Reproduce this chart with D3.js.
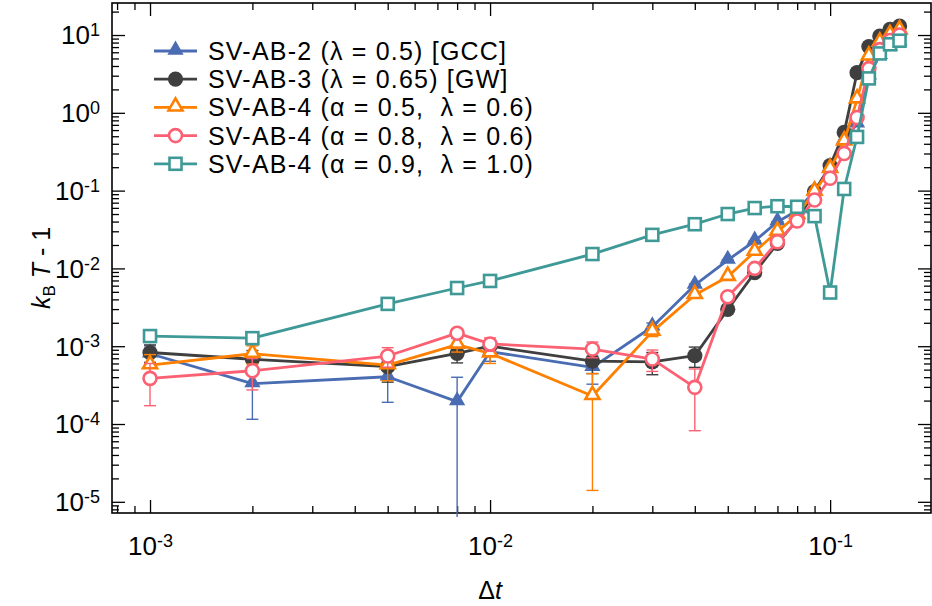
<!DOCTYPE html>
<html>
<head>
<meta charset="utf-8">
<script src="https://d3js.org/d3.v7.min.js"></script>
<style>
  body { margin: 0; background: #fff; }
  svg text { font-family: "Liberation Sans", Arial, sans-serif; fill: #000; white-space: pre; }
</style>
</head>
<body>
<svg id="chart"></svg>
<script>
// time steps (x) shared by all series
var dt = [0.001, 0.002, 0.005, 0.008, 0.01, 0.02, 0.03, 0.04, 0.05, 0.06,
          0.07, 0.08, 0.09, 0.1, 0.11, 0.12, 0.13, 0.14, 0.15, 0.16];

var ab2 = [8.0e-4, 3.3e-4, 4.05e-4, 1.94e-4, 8.5e-4, 5.35e-4, 1.78e-3, 6.1e-3, 1.28e-2, 2.25e-2,
           3.98e-2, 5.5e-2, 0.1, 0.2, 0.45, 0.72, 3.0, 5.5, 7.0, 8.2];
var ab2Err = [2.1e-4, 2.15e-4, 2.15e-4, 2.05e-4, 2.1e-4, 2.1e-4, 2.1e-4, 2.1e-4, 2.1e-4, 2.1e-4,
              2.1e-4, 2.1e-4, 2.1e-4, 2.1e-4, 2.1e-4, 2.1e-4, 2.1e-4, 2.1e-4, 2.1e-4, 2.1e-4];

var ab3 = [8.3e-4, 6.8e-4, 5.45e-4, 8.1e-4, 1.0e-3, 6.45e-4, 6.3e-4, 7.55e-4, 2.98e-3, 8.8e-3,
           2.1e-2, 4.2e-2, 9.7e-2, 0.21, 0.56, 3.28, 7.1, 9.7, 11.8, 13.0];
var ab3Err = [2.1e-4, 2.0e-4, 2.0e-4, 2.0e-4, 2.0e-4, 2.0e-4, 2.0e-4, 2.2e-4, 2.1e-4, 2.1e-4,
              2.1e-4, 2.1e-4, 2.1e-4, 2.1e-4, 2.1e-4, 2.1e-4, 2.1e-4, 2.1e-4, 2.1e-4, 2.1e-4];

var ab4a = [5.7e-4, 8.0e-4, 5.7e-4, 1.05e-3, 8.1e-4, 2.29e-4, 1.54e-3, 4.55e-3, 7.8e-3, 1.64e-2,
            2.97e-2, 4.86e-2, 9.7e-2, 0.19, 0.43, 1.49, 5.3, 8.0, 10.0, 11.5];
var ab4aErr = [2.1e-4, 2.1e-4, 2.1e-4, 2.1e-4, 2.1e-4, 2.15e-4, 2.1e-4, 2.1e-4, 2.1e-4, 2.1e-4,
               2.1e-4, 2.1e-4, 2.1e-4, 2.1e-4, 2.1e-4, 2.1e-4, 2.1e-4, 2.1e-4, 2.1e-4, 2.1e-4];

var ab4b = [3.86e-4, 4.84e-4, 7.48e-4, 1.47e-3, 1.07e-3, 9.2e-4, 6.84e-4, 2.96e-4, 4.33e-3, 1.0e-2,
            2.2e-2, 4.07e-2, 7.57e-2, 0.144, 0.30, 0.87, 3.7, 6.5, 8.5, 10.0];
var ab4bErr = [2.14e-4, 2.1e-4, 2.1e-4, 2.1e-4, 2.1e-4, 2.1e-4, 2.1e-4, 2.14e-4, 2.1e-4, 2.1e-4,
               2.1e-4, 2.1e-4, 2.1e-4, 2.1e-4, 2.1e-4, 2.1e-4, 2.1e-4, 2.1e-4, 2.1e-4, 2.1e-4];

var ab4c = [1.35e-3, 1.27e-3, 3.5e-3, 5.6e-3, 6.9e-3, 1.53e-2, 2.7e-2, 3.7e-2, 5.0e-2, 5.97e-2,
            6.3e-2, 6.2e-2, 4.7e-2, 4.9e-3, 0.105, 0.49, 2.77, 5.8, 7.6, 8.45];

var seriesNames = ['SV-AB-2 (\u03bb = 0.5) [GCC]',
                   'SV-AB-3 (\u03bb = 0.65) [GW]',
                   'SV-AB-4 (\u03b1 = 0.5,  \u03bb = 0.6)',
                   'SV-AB-4 (\u03b1 = 0.8,  \u03bb = 0.6)',
                   'SV-AB-4 (\u03b1 = 0.9,  \u03bb = 1.0)'];

var xMajor = [1e-3, 1e-2, 1e-1];
var yMajor = [1e-5, 1e-4, 1e-3, 1e-2, 1e-1, 1e0, 1e1];
var xExp = ['-3', '-2', '-1'];
var yExp = ['-5', '-4', '-3', '-2', '-1', '0', '1'];

var series = [
  { name: seriesNames[0], v: ab2,  err: ab2Err,  color: '#4a6cb3', shape: 'tri', fill: true },
  { name: seriesNames[1], v: ab3,  err: ab3Err,  color: '#3f3f3f', shape: 'circle', fill: true },
  { name: seriesNames[2], v: ab4a, err: ab4aErr, color: '#ff8000', shape: 'tri', fill: false },
  { name: seriesNames[3], v: ab4b, err: ab4bErr, color: '#fb6172', shape: 'circle', fill: false },
  { name: seriesNames[4], v: ab4c, err: null,    color: '#3f9a97', shape: 'square', fill: false }
];

var width = 932, height = 606;
var pLeft = 112, pRight = 931, pTop = 3, pBottom = 513;

var svg = d3.select('#chart').attr('width', width).attr('height', height);

var x = d3.scaleLog().domain([7.73e-4, 0.198]).range([pLeft, pRight]);
var y = d3.scaleLog().domain([7.18e-6, 25.8]).range([pBottom, pTop]);

function minors(lo, hi) {
  var out = [];
  for (var e = -6; e <= 2; e++) {
    for (var m = 2; m <= 9; m++) {
      var v = m * Math.pow(10, e);
      if (v > lo && v < hi) out.push(v);
    }
  }
  return out;
}
var xMinor = minors(x.domain()[0], x.domain()[1]);
var yMinor = minors(y.domain()[0], y.domain()[1]);

function styleAxis(g) {
  g.select('.domain').remove();
  g.selectAll('.tick line').attr('stroke', '#000').attr('stroke-width', 1.3);
}

// minor ticks, all four sides
svg.append('g').attr('transform', 'translate(0,' + pBottom + ')')
  .call(d3.axisBottom(x).tickValues(xMinor).tickFormat('').tickSizeInner(-7).tickSizeOuter(0)).call(styleAxis);
svg.append('g').attr('transform', 'translate(0,' + pTop + ')')
  .call(d3.axisTop(x).tickValues(xMinor).tickFormat('').tickSizeInner(-7).tickSizeOuter(0)).call(styleAxis);
svg.append('g').attr('transform', 'translate(' + pLeft + ',0)')
  .call(d3.axisLeft(y).tickValues(yMinor).tickFormat('').tickSizeInner(-7).tickSizeOuter(0)).call(styleAxis);
svg.append('g').attr('transform', 'translate(' + pRight + ',0)')
  .call(d3.axisRight(y).tickValues(yMinor).tickFormat('').tickSizeInner(-7).tickSizeOuter(0)).call(styleAxis);

// major ticks
var xAxis = svg.append('g').attr('transform', 'translate(0,' + pBottom + ')')
  .call(d3.axisBottom(x).tickValues(xMajor).tickSizeInner(-13).tickSizeOuter(0).tickPadding(24))
  .call(styleAxis);
svg.append('g').attr('transform', 'translate(0,' + pTop + ')')
  .call(d3.axisTop(x).tickValues(xMajor).tickFormat('').tickSizeInner(-13).tickSizeOuter(0)).call(styleAxis);
var yAxis = svg.append('g').attr('transform', 'translate(' + pLeft + ',0)')
  .call(d3.axisLeft(y).tickValues(yMajor).tickSizeInner(-13).tickSizeOuter(0).tickPadding(12))
  .call(styleAxis);
svg.append('g').attr('transform', 'translate(' + pRight + ',0)')
  .call(d3.axisRight(y).tickValues(yMajor).tickFormat('').tickSizeInner(-13).tickSizeOuter(0)).call(styleAxis);

function powerLabel(sel, exps) {
  sel.selectAll('.tick text').each(function(d, i) {
    var t = d3.select(this).text(null)
      .attr('font-size', 26).attr('font-family', '"Liberation Sans", Arial, sans-serif').attr('fill', '#000');
    t.append('tspan').text('10');
    t.append('tspan').attr('font-size', 18).attr('dy', '-0.45em').text(exps[i]);
  });
}
powerLabel(xAxis, xExp);
xAxis.selectAll('.tick text').attr('dy', '0.71em').attr('text-anchor', 'middle');
powerLabel(yAxis, yExp);
yAxis.selectAll('.tick text').attr('dy', '0.34em');

// frame
svg.append('rect')
  .attr('x', pLeft).attr('y', pTop)
  .attr('width', pRight - pLeft).attr('height', pBottom - pTop)
  .attr('fill', 'none').attr('stroke', '#000').attr('stroke-width', 1.6);

var plot = svg.append('g');
var line = d3.line()
  .x(function(d) { return x(d.t); })
  .y(function(d) { return y(d.v); });

function drawMarker(g, s, cx, cy) {
  var sw = s.fill ? 0 : 2.6;
  var fill = s.fill ? s.color : '#fff';
  if (s.shape === 'circle') {
    g.append('circle').attr('cx', cx).attr('cy', cy).attr('r', s.fill ? 7.6 : 6.5)
      .attr('fill', fill).attr('stroke', s.color).attr('stroke-width', sw);
  } else if (s.shape === 'tri') {
    g.append('path').attr('d', d3.symbol(d3.symbolTriangle, s.fill ? 115 : 85)())
      .attr('transform', 'translate(' + cx + ',' + (cy - 1) + ')')
      .attr('fill', fill).attr('stroke', s.color).attr('stroke-width', sw).attr('stroke-linejoin', 'miter');
  } else {
    g.append('rect').attr('x', cx - 6).attr('y', cy - 6).attr('width', 12).attr('height', 12)
      .attr('fill', fill).attr('stroke', s.color).attr('stroke-width', sw);
  }
}

series.forEach(function(s) {
  var pts = dt.map(function(t, i) { return { t: t, v: s.v[i], e: s.err ? s.err[i] : 0 }; });
  var g = plot.append('g');

  if (s.err) {
    pts.forEach(function(p) {
      var cx = x(p.t);
      var hiY = y(p.v + p.e);
      var lo = p.v - p.e;
      var loY = lo > 0 ? Math.min(y(lo), pBottom + 4) : pBottom + 4;
      g.append('line').attr('x1', cx).attr('x2', cx).attr('y1', hiY).attr('y2', loY)
        .attr('stroke', s.color).attr('stroke-width', 1.4);
      g.append('line').attr('x1', cx - 6).attr('x2', cx + 6).attr('y1', hiY).attr('y2', hiY)
        .attr('stroke', s.color).attr('stroke-width', 1.4);
      if (lo > 0 && y(lo) < pBottom) {
        g.append('line').attr('x1', cx - 6).attr('x2', cx + 6).attr('y1', y(lo)).attr('y2', y(lo))
          .attr('stroke', s.color).attr('stroke-width', 1.4);
      }
    });
  }

  g.append('path').datum(pts).attr('d', line)
    .attr('fill', 'none').attr('stroke', s.color).attr('stroke-width', 2.8).attr('stroke-linejoin', 'round');

  pts.forEach(function(p) { drawMarker(g, s, x(p.t), y(p.v)); });
});

// legend
var legend = svg.append('g');
series.forEach(function(s, i) {
  var ly = 51 + i * 28.2;
  var row = legend.append('g');
  row.append('line').attr('x1', 154).attr('x2', 197).attr('y1', ly).attr('y2', ly)
    .attr('stroke', s.color).attr('stroke-width', 2.8);
  drawMarker(row, s, 175.5, ly);
  row.append('text').attr('x', 208).attr('y', ly + 9)
    .attr('font-size', 25).style('letter-spacing', '1.2px').text(s.name);
});

// axis titles
var yl = svg.append('text')
  .attr('transform', 'translate(50,268) rotate(-90)')
  .attr('text-anchor', 'middle').attr('font-size', 25);
yl.append('tspan').attr('font-style', 'italic').text('k');
yl.append('tspan').attr('font-size', 17).attr('dy', 5).text('B');
yl.append('tspan').attr('dy', -5).attr('font-style', 'italic').text(' T');
yl.append('tspan').text(' - 1');

var xl = svg.append('text')
  .attr('x', 490).attr('y', 599)
  .attr('text-anchor', 'middle').attr('font-size', 25);
xl.append('tspan').text('\u0394');
xl.append('tspan').attr('font-style', 'italic').text('t');
</script>
</body>
</html>
